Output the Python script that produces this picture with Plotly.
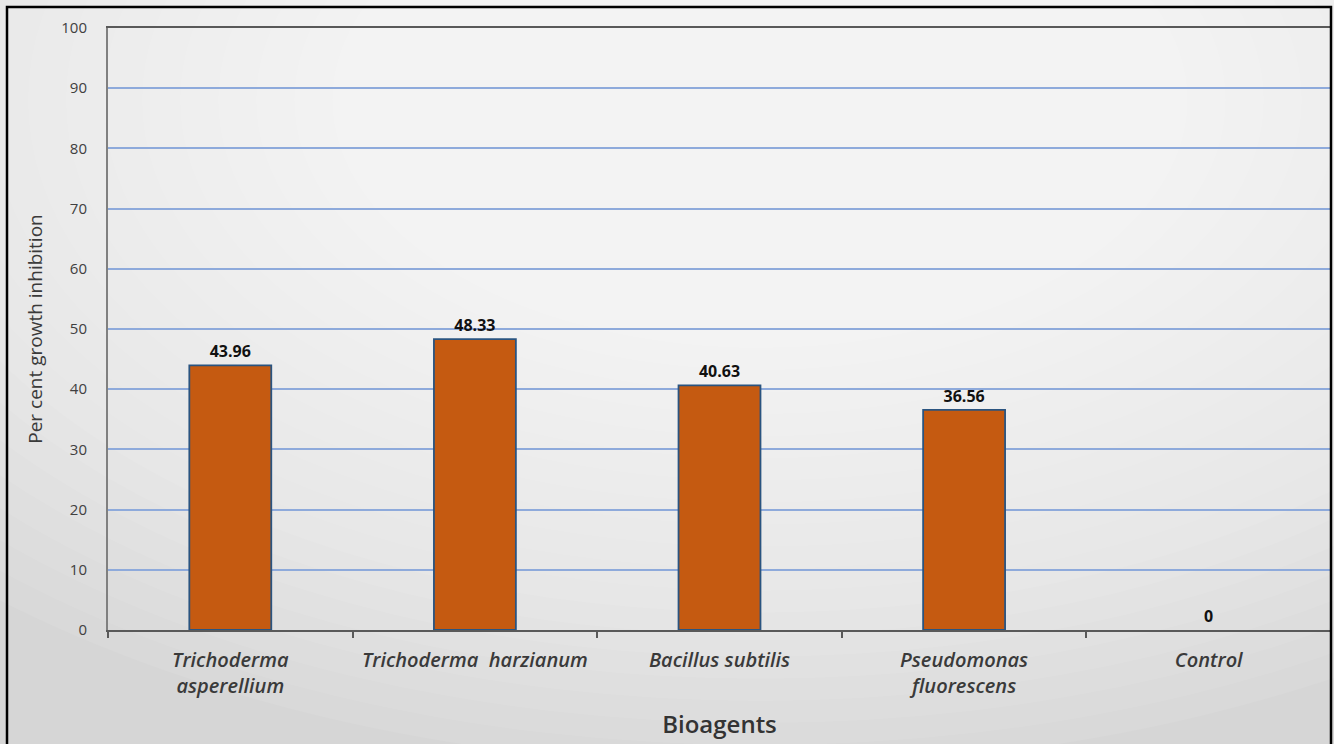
import plotly.graph_objects as go

categories = ["Trichoderma<br>asperellium", "Trichoderma  harzianum", "Bacillus subtilis",
              "Pseudomonas<br>fluorescens", "Control"]
values = [43.96, 48.33, 40.63, 36.56, 0]
value_labels = ["43.96", "48.33", "40.63", "36.56", "0"]
y_ticks = [0, 10, 20, 30, 40, 50, 60, 70, 80, 90, 100]

W, H = 1334, 744
ML, MR, MT, MB = 108, 3, 28, 114
PW, PH = W - ML - MR, H - MT - MB
FONT = "Open Sans, Lato, sans-serif"


def px_x(x):
    return (x - ML) / PW


def px_y(y):
    return (H - MB - y) / PH


fig = go.Figure()
fig.add_trace(go.Bar(
    x=categories, y=values,
    marker=dict(color="#c55a11",
                line=dict(color="#2a5480", width=[1.8 if v > 0 else 0 for v in values])),
    text=value_labels, textposition="outside", cliponaxis=False,
    textfont=dict(family=FONT, size=16, color="#111111", weight="bold"),
    width=0.335,
))

shapes = []
# background radial gradient approximation
cx, cy = 760, 100
n = 28
for i in range(n):
    rx = 1150 - i * 38
    ry = rx * 0.58
    shapes.append(dict(type="circle", xref="paper", yref="paper", layer="below",
                       x0=px_x(cx - rx), x1=px_x(cx + rx), y0=px_y(cy + ry), y1=px_y(cy - ry),
                       fillcolor="rgba(255,255,255,0.075)", line=dict(width=0)))
# outer frame
shapes.append(dict(type="rect", xref="paper", yref="paper", layer="above",
                   x0=px_x(7), x1=px_x(1331), y0=px_y(760), y1=px_y(7),
                   line=dict(color="#000000", width=2.5), fillcolor="rgba(0,0,0,0)"))

fig.update_layout(
    width=W, height=H,
    margin=dict(l=ML, r=MR, t=MT, b=MB),
    paper_bgcolor="#d6d6d6",
    plot_bgcolor="rgba(0,0,0,0)",
    showlegend=False,
    shapes=shapes,
    bargap=0.665,
    font=dict(family=FONT, color="#404040"),
    xaxis=dict(
        type="category",
        showline=True, linecolor="#595959", linewidth=2, mirror=True,
        ticks="outside", tickson="boundaries", ticklen=6, tickcolor="#595959", tickwidth=2,
        tickfont=dict(family=FONT, size=20, style="italic", color="#3a3a3a", weight=600),
        ticklabelstandoff=11,
        title=dict(text="Bioagents", font=dict(family=FONT, size=24, color="#333333", weight=600),
                   standoff=18),
        showgrid=False, automargin=False,
    ),
    yaxis=dict(
        range=[0, 100], tickvals=y_ticks,
        showline=True, linecolor="#808080", linewidth=2,
        showgrid=True, gridcolor="#8eaadb", gridwidth=1.5,
        zeroline=False,
        tickfont=dict(family=FONT, size=15, color="#404040"),
        ticks="", ticklabelstandoff=16,
        title=dict(text="Per cent growth inhibition", font=dict(family=FONT, size=19, color="#3a3a3a"),
                   standoff=14),
        automargin=False,
    ),
)

fig.write_html("out.html", config={"displayModeBar": False},
               post_script="document.body.style.margin='0';")
